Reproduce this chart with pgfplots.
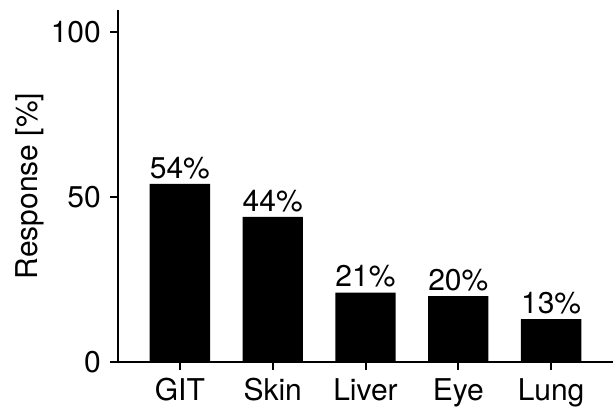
\documentclass[border=0pt]{standalone}
\usepackage{fontspec}
\setmainfont{TeX Gyre Heros}
\usepackage{pgfplots}
\pgfplotsset{compat=1.18}
\begin{document}
\begin{tikzpicture}[font=\fontsize{30bp}{35bp}\selectfont]
\useasboundingbox (0,0) rectangle (613bp,415bp);
\begin{axis}[
  at={(118bp,53bp)}, anchor=south west,
  scale only axis, width=495bp, height=352bp,
  xmin=-0.667, xmax=4.667, ymin=0, ymax=106.7,
  axis x line=bottom, axis y line=left,
  axis line style={line width=2bp, -, black},
  xtick={0,1,2,3,4}, xticklabels={GIT,Skin,Liver,Eye,Lung},
  ytick={0,50,100},
  tick align=outside, major tick length=8bp,
  tick style={line width=2bp, black},
  yticklabel style={inner sep=2bp, xshift=-7bp},
  xticklabel style={inner sep=2bp, yshift=-6bp},
  /pgf/number format/assume math mode=true,
  ylabel={Response [\%]},
  ylabel style={yshift=1bp},
  bar width=0.65,
  nodes near coords={\pgfmathprintnumber{\pgfplotspointmeta}\%},
  nodes near coords style={inner sep=0bp, yshift=5bp, black},
]
\addplot[ybar, fill=black, draw=none, bar shift=0] coordinates {(0,54) (1,44) (2,21) (3,20) (4,13)};
\end{axis}
\end{tikzpicture}
\end{document}
